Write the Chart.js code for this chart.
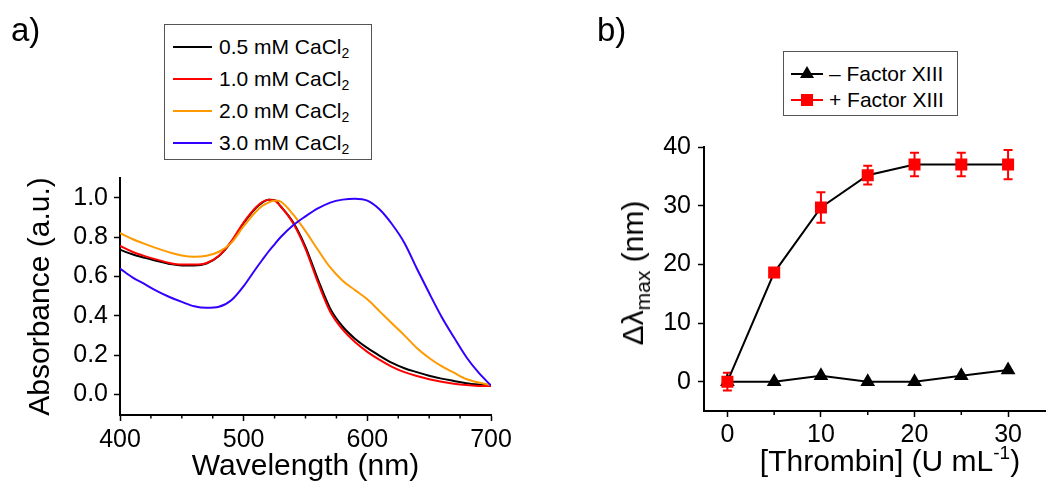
<!DOCTYPE html>
<html>
<head>
<meta charset="utf-8">
<script src="https://cdn.jsdelivr.net/npm/chart.js@4.4.1/dist/chart.umd.min.js"></script>
<style>
  body { margin: 0; background: #fff; font-family: "Liberation Sans", Arial, sans-serif; color: #000; }
  #wrap { position: relative; width: 1054px; height: 487px; overflow: hidden; }
  canvas { position: absolute; top: 0; }
  #chartA { left: 0; }
  #chartB { left: 530px; }
  .panel { position: absolute; font-size: 33px; line-height: 1; }
  .legend { position: absolute; box-sizing: border-box; border: 1.5px solid #555; background: #fff; font-size: 21px; }
  .row { position: absolute; left: 0; height: 30px; line-height: 30px; white-space: nowrap; }
  .swatch { position: absolute; height: 2px; top: 14px; }
  .label { position: absolute; top: 0; }
  .label sub { font-size: 14px; vertical-align: -4px; line-height: 0; }
  .tri { position: absolute; width: 0; height: 0; border-left: 7px solid transparent; border-right: 7px solid transparent; border-bottom: 12px solid #000; }
  .sq { position: absolute; width: 12px; height: 12px; background: #f00; }
  .axtitle { position: absolute; font-size: 30px; white-space: nowrap; line-height: 1; }
  .axtitle sub { font-size: 21px; vertical-align: -7px; line-height: 0; }
  .axtitle sup { font-size: 19px; vertical-align: 12px; line-height: 0; }
</style>
</head>
<body>
<div id="wrap">
  <canvas id="chartA" width="530" height="487"></canvas>
  <canvas id="chartB" width="524" height="487"></canvas>
  <div class="panel" style="left:11px; top:13px;">a)</div>
  <div class="panel" style="left:597px; top:13px;">b)</div>
  <div class="legend" id="legendA" style="left:164px; top:24px; width:208px; height:136px;"></div>
  <div class="legend" id="legendB" style="left:783px; top:51px; width:175px; height:65px;"></div>
  <div class="axtitle" id="ytitleB" style="left:633px; top:273px; transform: translate(-50%, -50%) rotate(-90deg);">&Delta;&lambda;<sub>max</sub> (nm)</div>
  <div class="axtitle" id="xtitleB" style="left:890px; top:446px; transform: translateX(-50%);">[Thrombin] (U mL<sup>-1</sup>)</div>
</div>
<script>
// panel a: UV-vis spectra
const wavelength = [400, 410, 420, 430, 440, 450, 460, 470, 480, 490, 500, 510, 515, 520, 525, 530, 540, 550, 560, 570,
  580, 590, 600, 610, 620, 630, 640, 650, 660, 670, 680, 690, 700];
const abs05 = [0.735, 0.712, 0.694, 0.678, 0.663, 0.655, 0.655, 0.665, 0.703, 0.775, 0.870, 0.948, 0.975, 0.990, 0.988, 0.955, 0.875, 0.750, 0.585, 0.436,
  0.345, 0.283, 0.236, 0.196, 0.160, 0.133, 0.113, 0.095, 0.080, 0.068, 0.057, 0.050, 0.045];
const abs10 = [0.755, 0.725, 0.703, 0.685, 0.668, 0.660, 0.660, 0.668, 0.705, 0.778, 0.875, 0.952, 0.978, 0.990, 0.985, 0.955, 0.870, 0.740, 0.570, 0.420,
  0.330, 0.266, 0.216, 0.175, 0.140, 0.113, 0.093, 0.077, 0.064, 0.054, 0.047, 0.043, 0.042];
const abs20 = [0.820, 0.790, 0.765, 0.742, 0.722, 0.706, 0.700, 0.705, 0.725, 0.770, 0.855, 0.930, 0.958, 0.975, 0.986, 0.980, 0.915, 0.830, 0.735, 0.645,
  0.578, 0.530, 0.483, 0.422, 0.360, 0.300, 0.236, 0.185, 0.143, 0.110, 0.078, 0.060, 0.048];
const abs30 = [0.640, 0.595, 0.560, 0.525, 0.495, 0.470, 0.448, 0.440, 0.445, 0.478, 0.550, 0.640, 0.683, 0.725, 0.763, 0.800, 0.860, 0.905, 0.945, 0.975,
  0.990, 0.995, 0.985, 0.940, 0.865, 0.770, 0.640, 0.515, 0.395, 0.290, 0.190, 0.110, 0.045];
const seriesNamesA = ["0.5 mM CaCl", "1.0 mM CaCl", "2.0 mM CaCl", "3.0 mM CaCl"];
const seriesColorsA = ["#000000", "#ff0000", "#ff9900", "#3300ff"];
const xTicksA = [400, 500, 600, 700];
const xMinorA = [425, 450, 475, 525, 550, 575, 625, 650, 675];
const yTicksA = [0.0, 0.2, 0.4, 0.6, 0.8, 1.0];
const yTickLabelsA = ["0.0", "0.2", "0.4", "0.6", "0.8", "1.0"];

// panel b: shift vs thrombin
const thrombin = [0, 5, 10, 15, 20, 25, 30];
const shiftMinus = [0, 0, 1, 0, 0, 1, 2];
const shiftPlus = [0, 18.6, 29.7, 35.2, 37.0, 37.0, 37.0];
const errPlus = [1.5, 0.6, 2.6, 1.6, 2.0, 2.0, 2.5];
const seriesNamesB = ["\u2013 Factor XIII", "+ Factor XIII"];
const xTicksB = [0, 10, 20, 30];
const xMinorB = [5, 15, 25];
const yTicksB = [0, 10, 20, 30, 40];

const FONT = '"Liberation Sans", Arial, sans-serif';

const minorTicks = {
  id: "minorTicks",
  afterDraw(chart, args, opts) {
    const s = chart.scales.x;
    const ctx = chart.ctx;
    ctx.save();
    ctx.strokeStyle = "#000";
    ctx.lineWidth = 1.5;
    (opts.values || []).forEach(v => {
      const px = s.getPixelForValue(v);
      ctx.beginPath();
      ctx.moveTo(px, s.top);
      ctx.lineTo(px, s.top + opts.length);
      ctx.stroke();
    });
    ctx.restore();
  }
};

const errorBars = {
  id: "errorBars",
  beforeDatasetsDraw(chart) {
    const ctx = chart.ctx;
    const xs = chart.scales.x, ys = chart.scales.y;
    chart.data.datasets.forEach(ds => {
      if (!ds.errors) return;
      ctx.save();
      ctx.strokeStyle = ds.errorColor;
      ctx.lineWidth = 2;
      ds.data.forEach((p, i) => {
        const e = ds.errors[i];
        const px = xs.getPixelForValue(p.x);
        const top = ys.getPixelForValue(p.y + e);
        const bot = ys.getPixelForValue(p.y - e);
        ctx.beginPath();
        ctx.moveTo(px, top); ctx.lineTo(px, bot);
        ctx.moveTo(px - 4.5, top); ctx.lineTo(px + 4.5, top);
        ctx.moveTo(px - 4.5, bot); ctx.lineTo(px + 4.5, bot);
        ctx.stroke();
      });
      ctx.restore();
    });
  }
};

function fixWidth(w) {
  return s => { s.width = w; s.paddingTop = 0; s.paddingBottom = 0; };
}
function fixHeight(h) {
  return s => { s.height = h; s.paddingLeft = 0; s.paddingRight = 0; };
}

function axis(extra) {
  return Object.assign({
    type: "linear",
    grid: { drawOnChartArea: false, drawTicks: true, tickLength: 6, tickWidth: 1.5, tickColor: "#000" },
    border: { display: true, color: "#000", width: 2 },
  }, extra);
}

// ---- chart a
const pairs = (xs, ys) => xs.map((x, i) => ({ x: x, y: ys[i] }));
const spectra = [abs05, abs10, abs20, abs30];

new Chart(document.getElementById("chartA"), {
  type: "line",
  data: {
    datasets: spectra.map((vals, i) => ({
      label: seriesNamesA[i] + "2",
      data: pairs(wavelength, vals),
      borderColor: seriesColorsA[i],
      borderWidth: 2,
      pointRadius: 0,
      cubicInterpolationMode: "monotone",
      fill: false
    })).reverse()
  },
  options: {
    responsive: false,
    animation: false,
    devicePixelRatio: 1,
    layout: { padding: { left: 0, top: 178, right: 39, bottom: 0 } },
    plugins: {
      legend: { display: false },
      tooltip: { enabled: false },
      minorTicks: { values: xMinorA, length: 3.5 }
    },
    scales: {
      x: axis({
        min: 400, max: 700,
        afterBuildTicks: s => { s.ticks = xTicksA.map(v => ({ value: v })); },
        afterFit: fixHeight(72),
        ticks: { color: "#000", padding: 4, maxRotation: 0, font: { family: FONT, size: 25 }, callback: v => String(v) },
        title: { display: true, text: "Wavelength (nm)", color: "#000", font: { family: FONT, size: 30 }, padding: { top: 0, bottom: 2 } }
      }),
      y: axis({
        min: -0.105, max: 1.1,
        afterBuildTicks: s => { s.ticks = yTicksA.map(v => ({ value: v })); },
        afterFit: fixWidth(120),
        ticks: { color: "#000", padding: 6, font: { family: FONT, size: 25 }, callback: (v, i) => yTickLabelsA[i] },
        title: { display: true, text: "Absorbance (a.u.)", color: "#000", font: { family: FONT, size: 30 }, padding: { top: 23, bottom: 0 } }
      })
    }
  },
  plugins: [minorTicks]
});

// ---- chart b
new Chart(document.getElementById("chartB"), {
  type: "line",
  data: {
    datasets: [
      {
        label: seriesNamesB[1],
        data: pairs(thrombin, shiftPlus),
        errors: errPlus,
        errorColor: "#ff0000",
        borderColor: "#000",
        borderWidth: 2,
        pointStyle: "rect",
        pointRadius: 8.5,
        pointBackgroundColor: "#ff0000",
        pointBorderColor: "#ff0000",
        pointBorderWidth: 0,
        tension: 0
      },
      {
        label: seriesNamesB[0],
        data: pairs(thrombin, shiftMinus),
        borderColor: "#000",
        borderWidth: 2,
        pointStyle: "triangle",
        pointRadius: 8.5,
        pointBackgroundColor: "#000",
        pointBorderColor: "#000",
        pointBorderWidth: 0,
        tension: 0
      }
    ]
  },
  options: {
    responsive: false,
    animation: false,
    devicePixelRatio: 1,
    layout: { padding: { left: 0, top: 147, right: 4, bottom: 0 } },
    plugins: {
      legend: { display: false },
      tooltip: { enabled: false },
      minorTicks: { values: xMinorB, length: 4 }
    },
    scales: {
      x: axis({
        min: -2.5, max: 34,
        afterBuildTicks: s => { s.ticks = xTicksB.map(v => ({ value: v })); },
        afterFit: fixHeight(76),
        ticks: { color: "#000", padding: 3, maxRotation: 0, font: { family: FONT, size: 25 }, callback: v => String(v) }
      }),
      y: axis({
        min: -5, max: 40,
        afterBuildTicks: s => { s.ticks = yTicksB.map(v => ({ value: v })); },
        afterFit: fixWidth(174),
        ticks: { color: "#000", padding: 7, font: { family: FONT, size: 25 }, callback: v => String(v) }
      })
    }
  },
  plugins: [minorTicks, errorBars]
});

// ---- legends
const legA = document.getElementById("legendA");
seriesNamesA.forEach((name, i) => {
  const row = document.createElement("div");
  row.className = "row";
  row.style.top = (22 + i * 32 - 15) + "px";
  row.innerHTML = `<span class="swatch" style="left:8px; width:39px; background:${seriesColorsA[i]}"></span>` +
    `<span class="label" style="left:54px">${name}<sub>2</sub></span>`;
  legA.appendChild(row);
});

const legB = document.getElementById("legendB");
const legBMarks = [
  { color: "#000", mark: '<span class="tri" style="left:16px; top:7px"></span>' },
  { color: "#f00", mark: '<span class="sq" style="left:17px; top:9px"></span>' }
];
seriesNamesB.forEach((name, i) => {
  const row = document.createElement("div");
  row.className = "row";
  row.style.top = (21.5 + i * 26.6 - 15) + "px";
  row.innerHTML = `<span class="swatch" style="left:7px; width:32px; background:${legBMarks[i].color}"></span>` +
    legBMarks[i].mark +
    `<span class="label" style="left:45px">${name}</span>`;
  legB.appendChild(row);
});
</script>
</body>
</html>
